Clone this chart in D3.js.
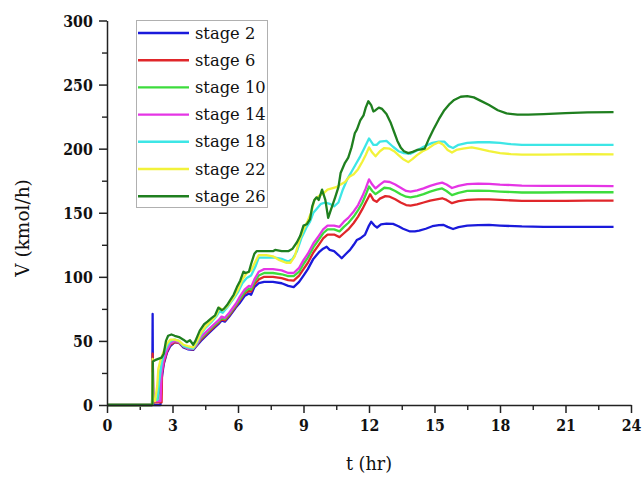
<!DOCTYPE html>
<html>
<head>
<meta charset="utf-8">
<script src="https://cdn.jsdelivr.net/npm/d3@7"></script>
<style>
  html, body { margin: 0; padding: 0; background: #fff; }
  svg { display: block; }
</style>
</head>
<body>
<svg id="chart" width="644" height="477"></svg>
<script>
// Vapour flow V (kmol/h) on selected column stages versus time t (hr)
const seriesNames = ["stage 2", "stage 6", "stage 10", "stage 14", "stage 18", "stage 22", "stage 26"];
const seriesColors = ["#1a1adb", "#e0262a", "#3ddc3d", "#e535e5", "#3de6e6", "#f2f23a", "#1f7f1f"];

const xTicks = [0, 3, 6, 9, 12, 15, 18, 21, 24];
const yTicks = [0, 50, 100, 150, 200, 250, 300];

const stage2 = [[0,0],[2.07,0],[2.09,71],[2.1,30],[2.12,0],[2.45,0],[2.5,20],[2.6,32],[2.75,41],[2.9,46],[3.1,49],[3.3,48.5],[3.5,45],[3.7,43.5],[3.95,43],[4.1,46],[4.3,50],[4.6,55],[4.9,60],[5.1,63],[5.25,66],[5.4,65],[5.6,69],[5.9,76],[6.1,80],[6.3,85],[6.5,87],[6.6,86],[6.75,92],[6.95,95],[7.2,96],[7.6,96],[8.0,95],[8.3,93],[8.55,92],[8.8,96],[9.0,101],[9.2,106],[9.45,114],[9.7,119],[9.9,122],[10.06,123.5],[10.2,121],[10.4,120],[10.6,117],[10.75,114.5],[10.95,118],[11.13,121],[11.3,125],[11.44,128.7],[11.6,130],[11.82,133],[12.0,140],[12.1,143],[12.25,140],[12.37,138.5],[12.55,141],[12.8,141.5],[13.1,141.3],[13.35,139.5],[13.56,137.5],[13.88,135.4],[14.1,135.5],[14.3,136],[14.6,137.5],[14.9,139.5],[15.2,140.4],[15.4,140.6],[15.6,139],[15.85,137.3],[16.1,138.8],[16.5,140],[17.0,140.4],[17.5,140.5],[18,140],[19,139.3],[20,139],[21,139],[22,139],[23.2,139]];

const stage6 = [[0,0],[2.07,0],[2.09,40],[2.1,31],[2.12,2],[2.5,2],[2.52,25],[2.6,33],[2.75,42],[2.9,47],[3.1,49],[3.3,48.5],[3.5,45.5],[3.7,44],[3.95,43.5],[4.1,46.5],[4.3,51],[4.6,56],[4.9,61],[5.1,64],[5.25,67],[5.4,66],[5.6,70],[5.9,77],[6.1,82],[6.3,87],[6.5,89],[6.6,88.5],[6.75,94],[6.95,98],[7.2,100],[7.6,100],[8.0,99],[8.3,97.5],[8.55,97],[8.8,101],[9.0,106],[9.2,111],[9.45,119],[9.7,125],[9.9,130],[10.1,133],[10.4,133],[10.65,131],[10.85,134],[11.05,137],[11.3,142],[11.5,147],[11.7,153],[11.85,158],[12.05,164.5],[12.2,160],[12.35,158.5],[12.5,161],[12.75,163],[12.95,162.5],[13.2,160.5],[13.45,158],[13.7,156],[13.9,155.5],[14.2,156.5],[14.5,158],[14.8,159.5],[15.1,160.5],[15.35,161.3],[15.55,160],[15.8,157.5],[16.1,159],[16.5,160],[17.0,160.5],[17.5,160.4],[18,160],[19,159.3],[20,159.2],[21,159.3],[22,159.4],[23.2,159.4]];

const stage10 = [[0,0],[2.05,0],[2.08,8],[2.1,2],[2.2,5],[2.3,3],[2.38,10],[2.45,27],[2.55,35],[2.7,43],[2.9,48],[3.1,50],[3.3,49],[3.5,46],[3.7,44],[3.95,44],[4.1,47],[4.3,52],[4.6,57],[4.9,62],[5.1,65],[5.25,68],[5.4,67],[5.6,71],[5.9,78],[6.1,83],[6.3,88],[6.5,91],[6.6,90],[6.75,96],[6.95,101],[7.2,103],[7.6,103],[8.0,102],[8.3,100.5],[8.55,100.5],[8.8,104],[9.0,110],[9.2,115],[9.45,123],[9.7,129],[9.9,134],[10.1,137],[10.4,137],[10.65,135.5],[10.85,139],[11.05,142],[11.3,147],[11.5,152],[11.7,158],[11.85,164],[12.0,170.5],[12.15,167],[12.3,164.5],[12.5,167],[12.7,169.5],[12.95,169],[13.2,167],[13.45,164.5],[13.7,162.5],[13.9,162],[14.2,163],[14.5,164.5],[14.8,166.5],[15.1,168],[15.35,169],[15.55,167],[15.8,163.8],[16.1,165.5],[16.5,167],[17.0,167.3],[17.5,167],[18,166.5],[19,165.8],[20,165.8],[21,166],[22,166],[23.2,166]];

const stage14 = [[0,0],[2.08,0],[2.1,20],[2.12,3],[2.45,3],[2.5,25],[2.6,35],[2.75,43],[2.9,48],[3.1,50],[3.3,49],[3.5,46],[3.7,44],[3.95,44],[4.1,47],[4.3,53],[4.6,58],[4.9,63],[5.1,66],[5.25,69],[5.4,68],[5.6,72],[5.9,79],[6.1,85],[6.3,90],[6.5,93],[6.6,92],[6.75,98],[6.95,104],[7.2,106],[7.6,106],[8.0,105],[8.3,103],[8.55,103],[8.8,107],[9.0,113],[9.2,118],[9.45,126],[9.7,132],[9.9,137],[10.1,140],[10.4,140],[10.65,139],[10.85,143],[11.05,146],[11.3,151],[11.5,156],[11.7,163],[11.85,169],[12.0,176],[12.15,172],[12.3,169],[12.5,172],[12.7,174.5],[12.95,174],[13.2,172],[13.45,169.5],[13.7,167],[13.9,166.5],[14.2,167.5],[14.5,169],[14.8,171],[15.1,172.5],[15.35,173.5],[15.55,172],[15.8,169.3],[16.1,171],[16.5,172.3],[17.0,172.8],[17.5,172.6],[18,172],[19,171.2],[20,171],[21,171],[22,171],[23.2,170.8]];

const stage18 = [[0,0],[2.07,0],[2.09,25],[2.11,5],[2.3,4],[2.4,20],[2.5,32],[2.6,40],[2.75,46],[2.9,50],[3.1,51],[3.3,50],[3.5,46],[3.7,45],[3.95,44],[4.1,48],[4.3,55],[4.5,60],[4.8,65],[5.0,69],[5.15,73],[5.3,72],[5.5,76],[5.8,83],[6.0,88],[6.2,95],[6.4,99],[6.6,101],[6.8,108],[6.95,115],[7.3,115],[7.7,115],[8.0,114],[8.3,112],[8.5,114],[8.7,120],[8.9,130],[9.15,139],[9.3,143],[9.45,150],[9.6,153],[9.8,157],[10.0,158],[10.2,157],[10.4,155],[10.6,158],[10.8,168],[11.0,176],[11.2,182],[11.4,188],[11.6,194],[11.8,201],[12.0,208],[12.2,203],[12.35,203],[12.5,205.5],[12.8,206],[13.1,201.5],[13.35,198],[13.6,196.5],[13.9,196],[14.2,198.5],[14.5,201.5],[14.9,204.5],[15.2,205.5],[15.45,205.5],[15.65,202],[15.85,200.5],[16.1,203],[16.5,204.5],[17.0,205],[17.5,205],[18.0,204.5],[18.5,203.5],[19.0,203],[20,203],[21,203],[22,203],[23.2,203]];

const stage22 = [[0,0],[2.07,0],[2.09,36],[2.11,5],[2.2,3],[2.3,15],[2.35,28],[2.45,35],[2.6,42],[2.75,48],[2.9,51],[3.1,51],[3.3,50],[3.5,47],[3.7,46],[3.95,45],[4.1,49],[4.3,56],[4.5,61],[4.8,66],[5.0,70],[5.15,76],[5.3,74],[5.5,77],[5.8,84],[6.0,90],[6.2,98],[6.4,103],[6.6,105],[6.8,112],[6.95,117],[7.3,117],[7.6,116],[7.9,113],[8.2,111],[8.4,111],[8.6,116],[8.8,128],[9.0,137],[9.2,144],[9.35,150],[9.5,160],[9.7,163],[9.9,165],[10.1,168],[10.3,169],[10.5,170],[10.7,172],[10.9,174],[11.1,178],[11.3,180],[11.5,184],[11.7,190],[11.85,195],[12.0,201],[12.15,197],[12.3,194],[12.5,198],[12.7,200.5],[12.95,200],[13.15,198],[13.35,195],[13.55,192],[13.8,189.5],[14.0,192],[14.2,195],[14.45,198],[14.7,200],[14.95,203],[15.2,205],[15.4,203],[15.6,199],[15.8,197],[16.0,199],[16.3,200],[16.7,201],[17.0,200],[17.5,198],[18.0,196.5],[18.5,195.8],[19.0,195.3],[20,195.3],[21,195.5],[22,195.8],[23.2,195.5]];

const stage26 = [[0,0],[2.08,0],[2.1,34],[2.2,35],[2.35,36],[2.5,37],[2.6,40],[2.7,50],[2.8,54],[2.95,55],[3.1,54],[3.3,53],[3.5,51],[3.65,49],[3.8,50.5],[3.95,47],[4.05,50],[4.25,58],[4.45,63],[4.6,65],[4.8,68],[4.95,70],[5.1,76],[5.25,74],[5.35,75],[5.5,78],[5.65,82],[5.8,86],[5.95,92],[6.1,97],[6.25,104],[6.35,103],[6.5,104],[6.6,110],[6.75,118],[6.85,120],[7.2,120],[7.6,120],[7.7,121],[8.0,120],[8.3,120],[8.5,122],[8.7,127],[8.85,132],[9.0,140],[9.15,141],[9.3,145],[9.4,155],[9.5,160],[9.6,162],[9.7,160],[9.85,168],[10.0,160],[10.13,146],[10.25,152],[10.45,162],[10.6,170],[10.7,181],[10.9,189],[11.05,193],[11.2,201],[11.35,212],[11.45,215],[11.6,222],[11.75,226],[11.85,232],[11.97,237],[12.1,234],[12.2,229],[12.3,230],[12.45,232],[12.6,231],[12.8,227],[13.0,220],[13.15,213],[13.3,206],[13.45,201],[13.6,198],[13.8,196.5],[14.0,197.5],[14.2,199],[14.4,199.5],[14.55,200],[14.75,208],[14.95,215],[15.2,223],[15.45,230],[15.7,235],[15.9,238],[16.2,240.5],[16.5,241],[16.8,240],[17.1,237.5],[17.5,234],[17.9,230],[18.3,227.5],[18.8,226.5],[19.3,226.5],[20,227],[21,227.8],[22,228.3],[23.2,228.5]];

const seriesData = [stage2, stage6, stage10, stage14, stage18, stage22, stage26];

const FONT = "'DejaVu Serif', serif";
const svg = d3.select("#chart");
const plot = { left: 107, right: 631, top: 20.5, bottom: 405 };

const x = d3.scaleLinear().domain([0, 24]).range([plot.left, plot.right]);
const y = d3.scaleLinear().domain([0, 300]).range([plot.bottom, plot.top]);

// minor ticks (half steps) drawn first, without labels
const xMinor = d3.axisBottom(x).tickValues(d3.range(1.5, 24, 3)).tickSize(5).tickFormat("");
const yMinor = d3.axisLeft(y).tickValues(d3.range(25, 300, 50)).tickSize(5).tickFormat("");
svg.append("g").attr("transform", `translate(0,${plot.bottom})`).call(xMinor)
  .call(g => g.select(".domain").remove())
  .selectAll("line").attr("stroke", "#222").attr("stroke-width", 1.4);
svg.append("g").attr("transform", `translate(${plot.left},0)`).call(yMinor)
  .call(g => g.select(".domain").remove())
  .selectAll("line").attr("stroke", "#222").attr("stroke-width", 1.4);

// series lines
const line = d3.line().x(d => x(d[0])).y(d => y(d[1]));
svg.append("g").selectAll("path")
  .data(seriesData)
  .join("path")
  .attr("d", line)
  .attr("fill", "none")
  .attr("stroke", (d, i) => seriesColors[i])
  .attr("stroke-width", 2.3)
  .attr("stroke-linejoin", "round");

// major axes
const xAxis = d3.axisBottom(x).tickValues(xTicks).tickSize(8).tickSizeOuter(0).tickPadding(6);
const yAxis = d3.axisLeft(y).tickValues(yTicks).tickSize(8).tickSizeOuter(0).tickPadding(6);

const gx = svg.append("g").attr("transform", `translate(0,${plot.bottom})`).call(xAxis);
const gy = svg.append("g").attr("transform", `translate(${plot.left},0)`).call(yAxis);
[gx, gy].forEach(g => {
  g.attr("font-family", null);
  g.select(".domain").attr("stroke", "#222").attr("stroke-width", 1.5);
  g.selectAll(".tick line").attr("stroke", "#222").attr("stroke-width", 1.5);
  g.selectAll(".tick text")
    .style("font-family", FONT)
    .style("font-size", "16.5px").style("font-weight", "bold").attr("fill", "#111")
    .attr("transform", "scale(0.86,1)");
});
gy.selectAll(".tick text").attr("x", -16.5).attr("dy", "0.36em");

// axis titles
svg.append("text")
  .attr("transform", `translate(${(plot.left + plot.right) / 2},${470}) scale(0.95,1)`)
  .attr("text-anchor", "middle")
  .style("font-family", FONT).style("font-size", "18.5px").attr("fill", "#111")
  .text("t (hr)");
svg.append("text")
  .attr("transform", `translate(29,228) rotate(-90)`)
  .attr("text-anchor", "middle")
  .style("font-family", FONT).style("font-size", "18.5px").attr("fill", "#111")
  .text("V (kmol/h)");

// legend
const legend = svg.append("g");
legend.append("rect")
  .attr("x", 136.5).attr("y", 20.5).attr("width", 131).attr("height", 187)
  .attr("fill", "#fff").attr("stroke", "#b0b0b0").attr("stroke-width", 1);
const rows = legend.selectAll("g.row").data(seriesNames).join("g")
  .attr("class", "row")
  .attr("transform", (d, i) => `translate(0,${33 + i * 27.2})`);
rows.append("line")
  .attr("x1", 138).attr("x2", 189).attr("y1", 0).attr("y2", 0)
  .attr("stroke", (d, i) => seriesColors[i]).attr("stroke-width", 2.4);
rows.append("text")
  .attr("transform", "translate(195,0) scale(0.96,1)")
  .attr("dy", "0.33em")
  .style("font-family", FONT).style("font-size", "17px").attr("fill", "#111")
  .text(d => d);
</script>
</body>
</html>
